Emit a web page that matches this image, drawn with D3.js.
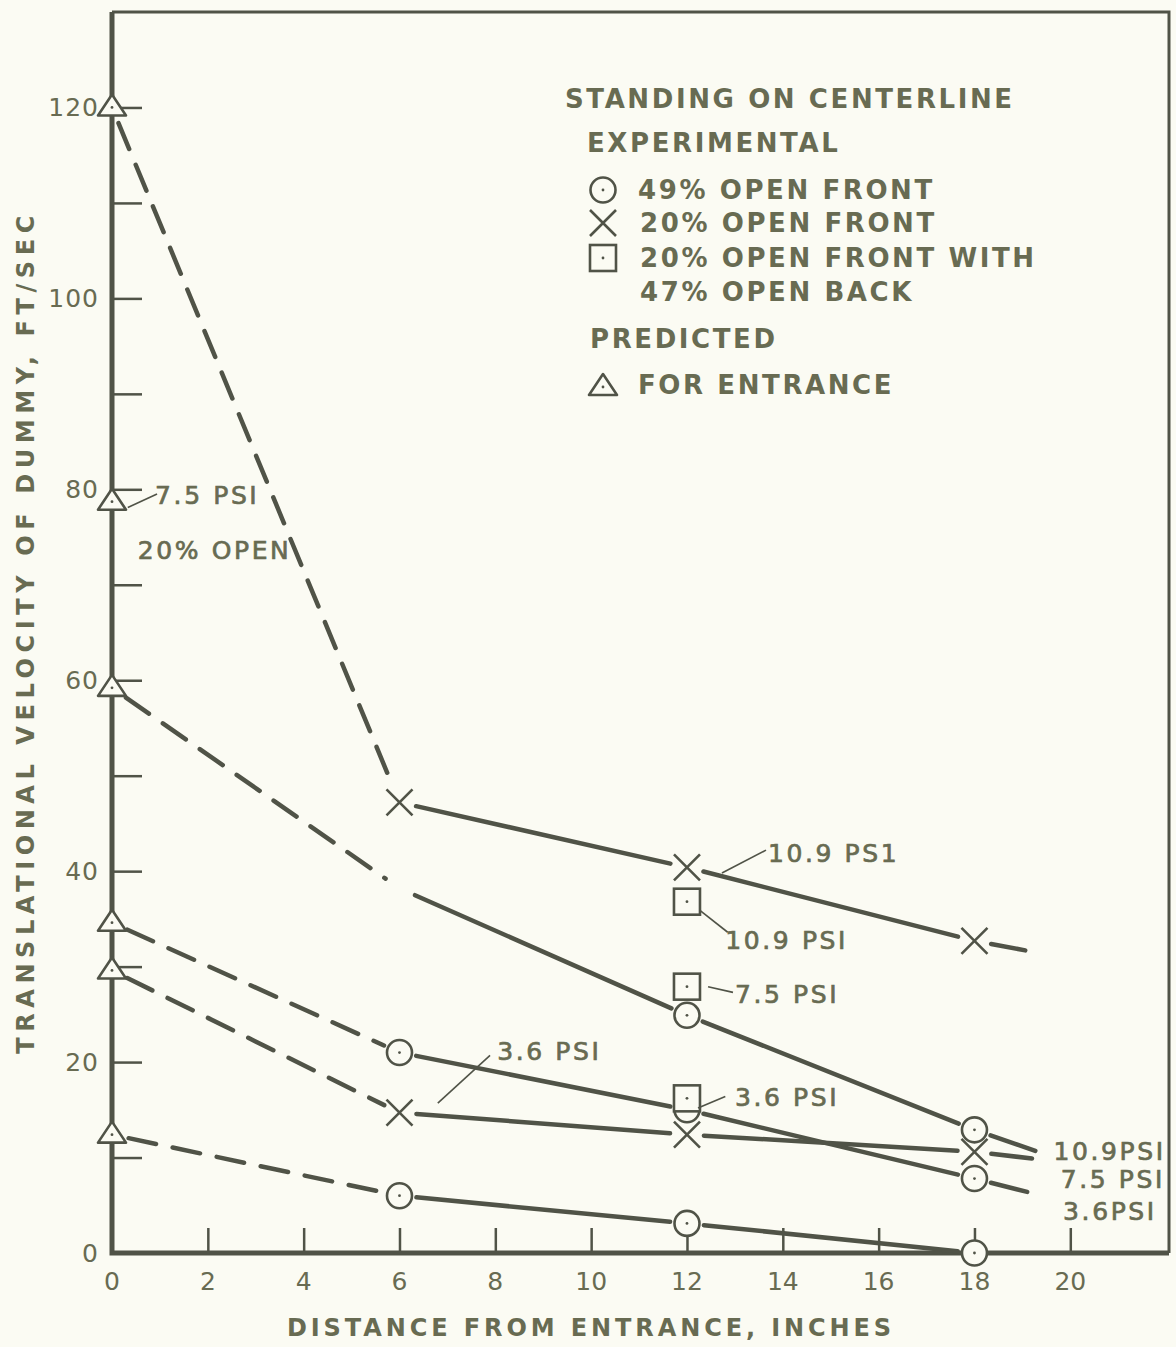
<!DOCTYPE html>
<html>
<head>
<meta charset="utf-8">
<script src="https://cdn.jsdelivr.net/npm/d3@7/dist/d3.min.js"></script>
<style>
  body { margin: 0; background: #fbfbf3; }
  svg text { font-family: "DejaVu Sans", sans-serif; fill: #686b52; }
</style>
</head>
<body>
<div id="chart"></div>
<script>
// values: distance (in) , velocity (ft/sec)
const xTickValues = [0, 2, 4, 6, 8, 10, 12, 14, 16, 18, 20];
const yTickValues = [0, 10, 20, 30, 40, 50, 60, 70, 80, 90, 100, 110, 120];
const yLabelValues = [0, 20, 40, 60, 80, 100, 120];

const predicted = [[0, 120], [0, 78.7], [0, 59.2], [0, 34.6], [0, 29.6], [0, 12.4]];
const open49 = [[6, 21], [12, 15], [18, 7.8], [6, 6], [12, 3.1], [18, 0], [12, 24.9], [18, 12.9]];
const open20 = [[6, 47.2], [12, 40.4], [18, 32.7], [6, 14.7], [12, 12.4], [18, 10.6]];
const open20back47 = [[12, 36.8], [12, 27.9], [12, 16.2]];

// predicted curves (dashed) and faired experimental curves (solid)
const dashedRuns = [
  [[0, 120], [6, 47.2]],
  [[0, 59.2], [6, 38.2]],
  [[0, 34.6], [6, 21]],
  [[0, 29.6], [6, 14.7]],
  [[0, 12.4], [6, 6]]
];
const solidRuns = [
  [[6, 47.2], [12, 40.4], [18, 32.7], [19.06, 31.7]],
  [[6, 38.2], [12, 24.9], [18, 12.9], [19.27, 10.7]],
  [[6, 21], [12, 15], [18, 7.8], [19.1, 6.4]],
  [[6, 14.7], [12, 12.4], [18, 10.6], [19.2, 9.9]],
  [[6, 6], [12, 3.1], [18, 0]]
];

// pressure labels: text start/centre and leader ends, in data units
const notes = [
  {text: "7.5 PSI", at: [0.9, 79.3], lead: [[0.33, 78.1], [0.94, 79.5]]},
  {text: "20% OPEN", at: [0.54, 73.6]},
  {text: "10.9 PS1", at: [13.69, 41.9], lead: [[12.73, 39.8], [13.65, 42.2]]},
  {text: "10.9 PSI", at: [12.8, 32.7], lead: [[12.27, 35.9], [12.85, 33.6]]},
  {text: "7.5 PSI", at: [13.0, 27.1], lead: [[12.44, 27.9], [12.96, 27.3]]},
  {text: "3.6 PSI", at: [13.0, 16.3], lead: [[12.23, 15.2], [12.8, 16.4]]},
  {text: "3.6 PSI", at: [8.04, 21.1], lead: [[6.8, 15.7], [7.89, 20.7]]},
  {text: "10.9PSI", at: [19.65, 10.6]},
  {text: "7.5 PSI", at: [19.8, 7.65]},
  {text: "3.6PSI", at: [19.85, 4.3]}
];

const legendRows = [
  {text: "STANDING ON CENTERLINE", x: 565, y: 99},
  {text: "EXPERIMENTAL", x: 587, y: 143},
  {text: "49% OPEN FRONT", x: 638, y: 190, sym: "circle"},
  {text: "20% OPEN FRONT", x: 640, y: 223, sym: "x"},
  {text: "20% OPEN FRONT WITH", x: 640, y: 258, sym: "square"},
  {text: "47% OPEN BACK", x: 640, y: 292},
  {text: "PREDICTED", x: 590, y: 339},
  {text: "FOR ENTRANCE", x: 638, y: 385, sym: "triangle"}
];

const width = 1176, height = 1347;
const ink = "#505347", bg = "#fbfbf3";

const x = d3.scaleLinear().domain([0, 22.06]).range([112, 1169]);
const y = d3.scaleLinear().domain([0, 130]).range([1253, 12]);

const svg = d3.select("#chart").append("svg")
  .attr("width", width).attr("height", height)
  .style("background", bg);

// frame (top and right thin)
svg.append("path")
  .attr("d", `M${x(0)},${y(130)}H${x(22.06)}V${y(0)}`)
  .attr("fill", "none").attr("stroke", ink).attr("stroke-width", 3);

// axes
const xAxis = d3.axisBottom(x).tickValues(xTickValues.filter(d => d > 0)).tickSize(-25).tickFormat("");
const yAxis = d3.axisLeft(y).tickValues(yTickValues.filter(d => d > 0)).tickSize(-30).tickFormat("");

const gx = svg.append("g").attr("transform", `translate(0,${y(0)})`).call(xAxis);
const gy = svg.append("g").attr("transform", `translate(${x(0)},0)`).call(yAxis);
[gx, gy].forEach(g => {
  g.select(".domain").remove();
  g.selectAll(".tick line").attr("stroke", ink).attr("stroke-width", 2.5);
});
svg.append("path")
  .attr("d", `M${x(0)},${y(130)}V${y(0)}H${x(22.06)}`)
  .attr("fill", "none").attr("stroke", ink).attr("stroke-width", 5);

svg.append("g").selectAll("text").data(xTickValues).join("text")
  .attr("x", d => x(d)).attr("y", 1281)
  .attr("text-anchor", "middle").attr("dominant-baseline", "central")
  .style("font-size", "25px")
  .text(d => d);

svg.append("g").selectAll("text").data(yLabelValues).join("text")
  .attr("x", 99).attr("y", d => y(d))
  .attr("text-anchor", "end").attr("dominant-baseline", "central")
  .style("font-size", "25px").style("letter-spacing", "1px")
  .text(d => d);

svg.append("text")
  .attr("x", 591).attr("y", 1328)
  .attr("text-anchor", "middle").attr("dominant-baseline", "central")
  .style("font-size", "24px").style("font-weight", "bold").style("letter-spacing", "3.9px")
  .text("DISTANCE FROM ENTRANCE, INCHES");

svg.append("text")
  .attr("transform", "translate(26,632) rotate(-90)")
  .attr("text-anchor", "middle").attr("dominant-baseline", "central")
  .style("font-size", "24px").style("font-weight", "bold").style("letter-spacing", "5.6px")
  .text("TRANSLATIONAL VELOCITY OF DUMMY, FT/SEC");

// lines, trimmed short of the plotted symbols
const gap = 17;
function trimmed(run) {
  const pts = run.map(p => [x(p[0]), y(p[1])]);
  const segs = [];
  for (let i = 0; i < pts.length - 1; i++) {
    let [a, b] = [pts[i].slice(), pts[i + 1].slice()];
    const dx = b[0] - a[0], dy = b[1] - a[1], len = Math.hypot(dx, dy);
    const ux = dx / len, uy = dy / len;
    a = [a[0] + ux * gap, a[1] + uy * gap];
    if (run[i + 1][0] < 19) b = [b[0] - ux * gap, b[1] - uy * gap];
    segs.push([a, b]);
  }
  return segs;
}
const line = d3.line();

dashedRuns.forEach(run => {
  trimmed(run).forEach(s => svg.append("path").attr("d", line(s))
    .attr("fill", "none").attr("stroke", ink).attr("stroke-width", 4.5)
    .attr("stroke-dasharray", "28,17").attr("stroke-linecap", "round"));
});
solidRuns.forEach(run => {
  trimmed(run).forEach(s => svg.append("path").attr("d", line(s))
    .attr("fill", "none").attr("stroke", ink).attr("stroke-width", 4.5)
    .attr("stroke-linecap", "round"));
});

// symbols
function drawSymbol(g, kind, cx, cy) {
  const sw = 2.6;
  const dot = () => g.append("circle").attr("cx", cx).attr("cy", cy).attr("r", 1.4).attr("fill", ink);
  if (kind === "circle") {
    g.append("circle").attr("cx", cx).attr("cy", cy).attr("r", 12.5)
      .attr("fill", bg).attr("stroke", ink).attr("stroke-width", sw);
    dot();
  } else if (kind === "square") {
    g.append("rect").attr("x", cx - 13).attr("y", cy - 13).attr("width", 26).attr("height", 26)
      .attr("fill", bg).attr("stroke", ink).attr("stroke-width", sw);
    dot();
  } else if (kind === "triangle") {
    g.append("path").attr("d", `M${cx},${cy - 13}L${cx + 14},${cy + 8}L${cx - 14},${cy + 8}Z`)
      .attr("fill", bg).attr("stroke", ink).attr("stroke-width", sw).attr("stroke-linejoin", "round");
    dot();
  } else if (kind === "x") {
    const h = 13;
    g.append("path").attr("d", `M${cx - h},${cy - h}L${cx + h},${cy + h}M${cx - h},${cy + h}L${cx + h},${cy - h}`)
      .attr("stroke", ink).attr("stroke-width", sw);
  }
}

const gm = svg.append("g");
open49.forEach(p => drawSymbol(gm, "circle", x(p[0]), y(p[1])));
open20.forEach(p => drawSymbol(gm, "x", x(p[0]), y(p[1])));
open20back47.forEach(p => drawSymbol(gm, "square", x(p[0]), y(p[1])));
predicted.forEach(p => drawSymbol(gm, "triangle", x(p[0]), y(p[1])));

// pressure notes
notes.forEach(n => {
  if (n.lead) {
    svg.append("path").attr("d", line(n.lead.map(p => [x(p[0]), y(p[1])])))
      .attr("stroke", ink).attr("stroke-width", 1.6).attr("fill", "none");
  }
  svg.append("text")
    .attr("x", x(n.at[0])).attr("y", y(n.at[1]))
    .attr("dominant-baseline", "central")
    .style("font-size", "25px").style("letter-spacing", "2.6px")
    .style("stroke", "#686b52").style("stroke-width", "0.7px")
    .text(n.text);
});

// legend
const gl = svg.append("g");
legendRows.forEach(r => {
  gl.append("text").attr("x", r.x).attr("y", r.y)
    .attr("dominant-baseline", "central")
    .style("font-size", "26px").style("font-weight", "bold").style("letter-spacing", "2.6px")
    .text(r.text);
  if (r.sym) drawSymbol(gl, r.sym, 603, r.sym === "triangle" ? r.y + 2 : r.y);
});
</script>
</body>
</html>
